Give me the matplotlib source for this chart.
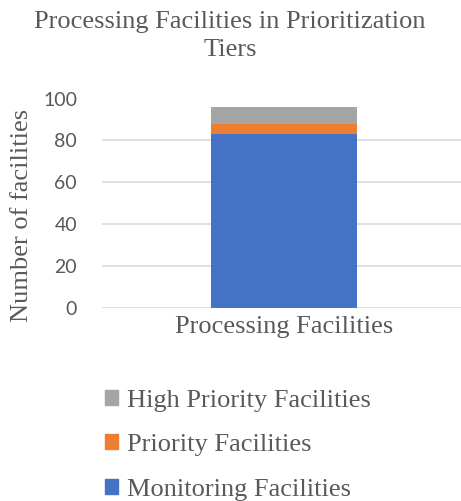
import matplotlib
matplotlib.use("Agg")
import matplotlib.pyplot as plt
from matplotlib.patches import Patch

categories = ["Processing Facilities"]
monitoring = [83]
priority = [5]
high_priority = [8]
series_names = ["Monitoring Facilities", "Priority Facilities", "High Priority Facilities"]
colors = ["#4472C4", "#ED7D31", "#A5A5A5"]
yticks = [0, 20, 40, 60, 80, 100]

W, H = 461, 501
fig = plt.figure(figsize=(W / 100, H / 100), dpi=100)
ax = fig.add_axes([102 / W, 1 - 308 / H, 359 / W, (308 - 98.5) / H])

serif = "Liberation Serif"
txtc = "#595959"

x = list(range(len(categories)))
ax.bar(x, monitoring, width=0.4, color=colors[0], zorder=3)
ax.bar(x, priority, width=0.4, bottom=monitoring, color=colors[1], zorder=3)
bottom2 = [a + b for a, b in zip(monitoring, priority)]
ax.bar(x, high_priority, width=0.4, bottom=bottom2, color=colors[2], zorder=3)

ax.set_xlim(-0.5, 0.5 - 5 / 364)
ax.set_ylim(0, 100)
ax.set_yticks(yticks)
ax.yaxis.grid(True, color="#D9D9D9", linewidth=1.2, zorder=0)
for s in ax.spines.values():
    s.set_visible(False)
ax.tick_params(axis="both", length=0)
ax.tick_params(axis="y", pad=18)
ax.tick_params(axis="x", pad=6)
ax.set_xticks(x)
ax.set_xticklabels(categories, fontfamily=serif, fontsize=19, color=txtc)
for lab in ax.get_yticklabels():
    lab.set_fontfamily("Lato")
    lab.set_fontsize(14)
    lab.set_color(txtc)

fig.text(22 / W, 1 - 215 / H, "Number of facilities", rotation=90, ha="center", va="center",
         fontfamily=serif, fontsize=19, color=txtc)
fig.text(230 / W, 1 - 36 / H, "Processing Facilities in Prioritization\nTiers", ha="center", va="center",
         fontfamily=serif, fontsize=19, color=txtc, linespacing=1.4)

handles = [Patch(color=colors[2]), Patch(color=colors[1]), Patch(color=colors[0])]
labels = [series_names[2], series_names[1], series_names[0]]
fig.legend(handles, labels, loc="upper left", bbox_to_anchor=(89 / W, 1 - 374 / H),
           frameon=False, prop={"family": serif, "size": 19}, labelcolor=txtc,
           handlelength=0.5, handleheight=0.5, handletextpad=0.35, labelspacing=0.85,
           borderpad=0.1)

fig.savefig("out.png", dpi=100)
